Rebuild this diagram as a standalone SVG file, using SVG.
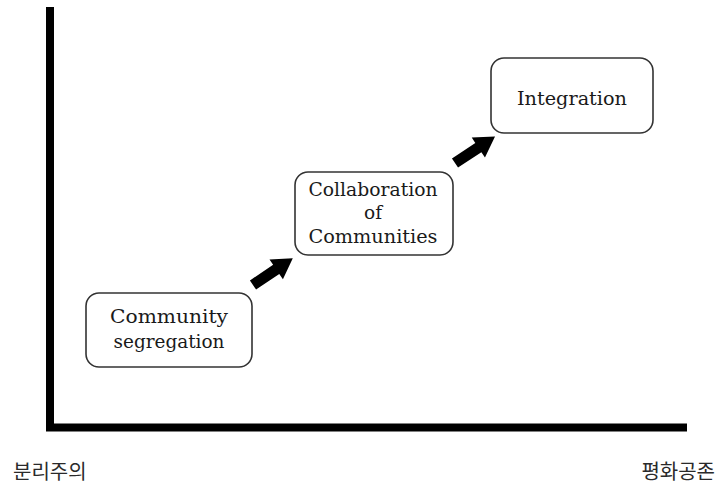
<svg xmlns="http://www.w3.org/2000/svg" xmlns:xlink="http://www.w3.org/1999/xlink" width="718" height="486" viewBox="0 0 718 486">
<style>
.box{fill:#fff;stroke:#333;stroke-width:1.6}
.lbl{font-family:"DejaVu Serif","Liberation Serif",serif;font-size:18.5px;fill:#1a1a1a;text-anchor:middle}
.ax{font-family:"Noto Sans CJK KR","Noto Sans",sans-serif;font-size:20px;fill:#2a2a2a}
.axis{fill:none;stroke:#000;stroke-width:8}
</style>
<defs>
<path id="arr" d="M0,-5.5 L28,-5.5 L28,-12 L48,0 L28,12 L28,5.5 L0,5.5 Z" fill="#000"/>
</defs>
<g id="axes">
<path class="axis" d="M50,7 L50,427.5 L687,427.5"/>
</g>
<g id="connectors">
<use xlink:href="#arr" transform="translate(253,285) rotate(-34)"/>
<use xlink:href="#arr" transform="translate(455,163) rotate(-33.5)"/>
</g>
<g id="node-segregation">
<rect class="box" x="86" y="293" width="166" height="74" rx="13"/>
<text class="lbl" x="169" y="323" textLength="118" lengthAdjust="spacingAndGlyphs">Community</text>
<text class="lbl" x="169" y="348" textLength="111" lengthAdjust="spacingAndGlyphs">segregation</text>
</g>
<g id="node-collaboration">
<rect class="box" x="295" y="172" width="158" height="83" rx="13"/>
<text class="lbl" x="373" y="196" textLength="129" lengthAdjust="spacingAndGlyphs">Collaboration</text>
<text class="lbl" x="373" y="219">of</text>
<text class="lbl" x="373" y="243" textLength="129" lengthAdjust="spacingAndGlyphs">Communities</text>
</g>
<g id="node-integration">
<rect class="box" x="491" y="58" width="162" height="75" rx="13"/>
<text class="lbl" x="572" y="105" textLength="110" lengthAdjust="spacingAndGlyphs">Integration</text>
</g>
<g id="axis-labels">
<text class="ax" x="13" y="479">분리주의</text>
<text class="ax" x="715" y="479" text-anchor="end">평화공존</text>
</g>
</svg>
